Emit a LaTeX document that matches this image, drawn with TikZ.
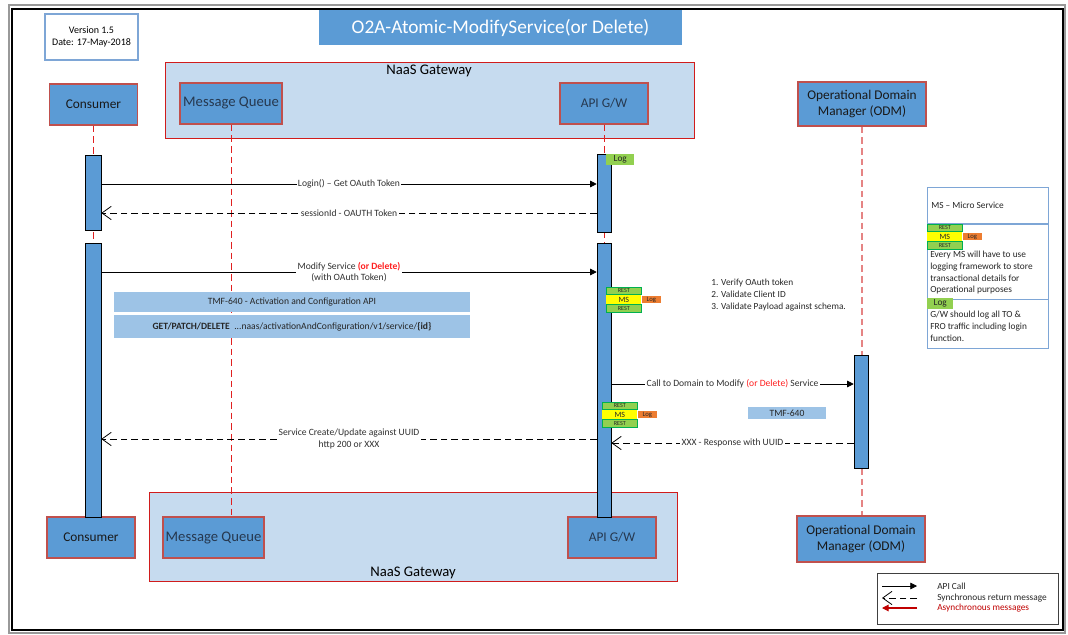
\documentclass[tikz,border=0pt]{standalone}
\usepackage{fontspec}
\setmainfont{Carlito}
\usepackage{tikz}
\usetikzlibrary{positioning, arrows.meta}
\definecolor{boxblue}{HTML}{5B9BD5}
\definecolor{gwblue}{HTML}{C6DBEF}
\definecolor{boxred}{HTML}{C0504D}
\definecolor{gwred}{HTML}{D01C1C}
\definecolor{lifered}{HTML}{E02020}
\definecolor{odmpink}{HTML}{E58484}
\definecolor{restgreen}{HTML}{92D050}
\definecolor{restedge}{HTML}{00B050}
\definecolor{msyellow}{HTML}{FFFF00}
\definecolor{logorange}{HTML}{ED7D31}
\definecolor{tmfblue}{HTML}{9DC3E6}
\definecolor{noteblue}{HTML}{7EA6D6}
\definecolor{slate}{HTML}{26384F}
\definecolor{textgrey}{HTML}{303030}
\definecolor{delred}{HTML}{FF1F1F}
\definecolor{asyncred}{HTML}{C00000}
\tikzset{main node/.style={rectangle, draw=boxred, thick, fill=boxblue, minimum width=66pt, minimum height=30.75pt, inner sep=2pt, align=center, text=black!90, font=\fontsize{10}{12}\selectfont},}
\tikzset{
  gw node/.style={rectangle, draw=gwred, thick, fill=gwblue, anchor=north west, inner sep=0pt},
  gw text/.style={font=\fontsize{11}{13}\selectfont, inner sep=1pt},
  bar node/.style={rectangle, draw=black, fill=boxblue, minimum width=10.5pt, inner sep=0pt, anchor=north},
  life line/.style={lifered, line width=0.6pt, dash pattern=on 5pt off 3pt},
  odm line/.style={odmpink, line width=1.1pt, dash pattern=on 5pt off 3pt},
  msg/.style={font=\fontsize{7.2}{8.6}\selectfont, text=textgrey, fill=white, inner sep=1pt, align=center},
  api call/.style={-{Triangle[length=5pt,width=5pt]}, line width=0.6pt},
  sync return/.style={-{Straight Barb[length=7pt,width=10pt]}, line width=0.6pt, dash pattern=on 5pt off 3pt},
  async msg/.style={-{Triangle[length=5pt,width=5pt]}, asyncred, line width=0.8pt},
  tag/.style={rectangle, inner sep=0pt, anchor=north west, text=black!85},
  rest tag/.style={tag, draw=restedge, fill=restgreen, minimum width=26.25pt, minimum height=5.6pt, font=\fontsize{4.6}{4.6}\selectfont},
  ms tag/.style={tag, fill=msyellow, minimum width=26.25pt, minimum height=6.4pt, font=\fontsize{6}{6}\selectfont},
  log tag/.style={tag, fill=logorange, minimum width=14.25pt, minimum height=5.25pt, font=\fontsize{5}{5}\selectfont},
  log node/.style={tag, fill=restgreen, minimum width=21pt, minimum height=8.25pt, font=\fontsize{7}{7}\selectfont},
  tmf node/.style={rectangle, fill=tmfblue, inner sep=1pt, text=black!85, font=\fontsize{7.2}{8.6}\selectfont},
  key node/.style={rectangle, draw=noteblue, fill=white, minimum width=90.75pt, inner sep=0pt, anchor=north west},
  key text/.style={font=\fontsize{7}{8.8}\selectfont, text=black!85, inner sep=0pt, align=left},
}
\newcommand{\msstack}[3]{%
  \node[rest tag] (#1a) at (#2,#3) {REST};
  \node[ms tag, below=0pt of #1a] (#1b) {MS};
  \node[rest tag, below=0pt of #1b] (#1c) {REST};
  \node[log tag, right=0pt of #1b] (#1d) {Log};
}

\begin{document}
\begin{tikzpicture}[x=0.75pt, y=-0.75pt]
        \useasboundingbox (0,0) rectangle (1068,635);
        % Frame
        \draw[black!40, line width=1pt] (9,5) rectangle (1065,633);
        \draw[black, line width=0.8pt] (12,9) rectangle (1063,630);
        % Title
        \node[rectangle, fill=boxblue, text=white, minimum width=272.25pt, minimum height=26.25pt, font=\fontsize{14.5}{16}\selectfont] (title) at (500.5,27.5) {O2A-Atomic-ModifyService(or Delete)};
        \node[rectangle, draw=noteblue, thick, fill=white, minimum width=69.75pt, minimum height=34.5pt, align=center, font=\fontsize{7.5}{9}\selectfont] (version) at (91.5,37) {Version 1.5\\Date: 17-May-2018};
        % Gateways
        \node[gw node, minimum width=396.75pt, minimum height=57pt] (gwtop) at (165,62) {};
        \node[gw text] (gwtoplabel) at (429,71) {NaaS Gateway};
        \node[gw node, minimum width=396pt, minimum height=66.75pt] (gwbot) at (149,492) {};
        \node[gw text] (gwbotlabel) at (413,573) {NaaS Gateway};
        % Actors
        \node[main node] (con1) at (93.5,104.5) {Consumer};
        \node[main node, minimum width=76.5pt, text=slate, font=\fontsize{11}{13}\selectfont] (mq1) at (231,103.5) {Message Queue};
        \node[main node, text=slate] (api1) at (604,103.5) {API G/W};
        \node[main node, minimum width=96pt, minimum height=33pt] (odm1) at (862,104) {Operational Domain\\Manager (ODM)};
        \node[main node] (con2) at (91,537.5) {Consumer};
        \node[main node, minimum width=75.75pt, text=slate, font=\fontsize{11}{13}\selectfont] (mq2) at (213.5,537.5) {Message Queue};
        \node[main node, text=slate] (api2) at (612,537.5) {API G/W};
        \node[main node, minimum width=96pt, minimum height=34.5pt] (odm2) at (861,539) {Operational Domain\\Manager (ODM)};
        % Life lines
        \draw[life line] (con1.south) -- (con1.south |- con2.north);
        \draw[life line] (mq1.south) -- (mq1.south |- mq2.north);
        \draw[life line] (api1.south) -- (api1.south |- api2.north);
        \draw[odm line] (odm1.south) -- (odm1.south |- odm2.north);
        % Activation bars
        \node[bar node, minimum width=12pt, minimum height=56.25pt] (cb1) at (93,155) {};
        \node[bar node, minimum width=12pt, minimum height=205.5pt] (cb2) at (93,243) {};
        \node[bar node, minimum height=58.5pt] (ab1) at (604,154) {};
        \node[bar node, minimum height=205.5pt] (ab2) at (604,243) {};
        \node[bar node, minimum height=84.75pt] (ob) at (861,355) {};
        % Tags
        \node[log node] (log1) at (606,154) {Log};
        \msstack{s1}{606}{287}
        \msstack{s2}{602}{402}
        % Messages
        \draw[api call] (cb1.east |- 0,184) -- node[msg] (m1) {Login() -- Get OAuth Token} (ab1.west |- 0,184);
        \draw[sync return] (ab1.west |- 0,213) -- node[msg] (m2) {sessionId - OAUTH Token} (cb1.east |- 0,213);
        \draw[api call] (cb2.east |- 0,272) -- node[msg] (m3) {Modify Service \textcolor{delred}{\textbf{(or Delete)}}\\(with OAuth Token)} (ab2.west |- 0,272);
        \draw[api call] (ab2.east |- 0,384) -- node[msg] (m4) {Call to Domain to Modify \textcolor{delred}{(or Delete)} Service} (ob.west |- 0,384);
        \draw[sync return] (ob.west |- 0,443) -- node[msg] (m5) {XXX - Response with UUID} (ab2.east |- 0,443);
        \draw[sync return] (ab2.west |- 0,439) -- node[msg] (m6) {Service Create/Update against UUID\\http 200 or XXX} (cb2.east |- 0,439);
        % TMF boxes
        \node[tmf node, minimum width=267pt, minimum height=15pt] (tmf1) at (292,302) {TMF-640 - Activation and Configuration API};
        \node[tmf node, minimum width=267pt, minimum height=17.25pt] (tmf2) at (292,326.5) {\textbf{GET/PATCH/DELETE}\ \ ...naas/activationAndConfiguration/v1/service/\textbf{\{id\}}};
        \node[tmf node, minimum width=58.5pt, minimum height=9pt] (tmf3) at (787,413) {TMF-640};
        \node[key text, anchor=north west, font=\fontsize{7}{9}\selectfont] (steps) at (711,279) {1. Verify OAuth token\\2. Validate Client ID\\3. Validate Payload against schema.};
        % Side notes
        \node[key node, minimum height=27pt] (key1) at (927,187) {};
        \node[key node, minimum height=56.25pt, below=0pt of key1] (key2) {};
        \node[key node, minimum height=36.75pt, below=0pt of key2] (key3) {};
        \node[key text, anchor=west] (k1) at (931,205) {MS -- Micro Service};
        \msstack{s3}{927}{224}
        \node[key text, anchor=north west] (k2) at (930,251) {Every MS will have to use\\logging framework to store\\transactional details for\\Operational purposes};
        \node[log node, minimum width=19.5pt] (log2) at (927,298) {Log};
        \node[key text, anchor=north west] (k3) at (930,311) {G/W should log all TO \&\\FRO traffic including login\\function.};
        % Legend
        \node[rectangle, draw=black!75, fill=white, minimum width=135.75pt, minimum height=38.25pt, anchor=north west] (legend) at (877,573) {};
        \coordinate (l1a) at (882,586); \coordinate (l1b) at (917,586);
        \coordinate (l2a) at (882,598); \coordinate (l2b) at (917,598);
        \coordinate (l3a) at (882,608); \coordinate (l3b) at (917,608);
        \draw[api call] (l1a) -- (l1b);
        \draw[sync return] (l2b) -- (l2a);
        \draw[async msg] (l3b) -- (l3a);
        \node[key text, anchor=west] (t1) at (937,586) {API Call};
        \node[key text, anchor=west] (t2) at (937,598) {Synchronous return message};
        \node[key text, anchor=west, text=asyncred] (t3) at (937,608) {Asynchronous messages};
    \end{tikzpicture}
\end{document}
